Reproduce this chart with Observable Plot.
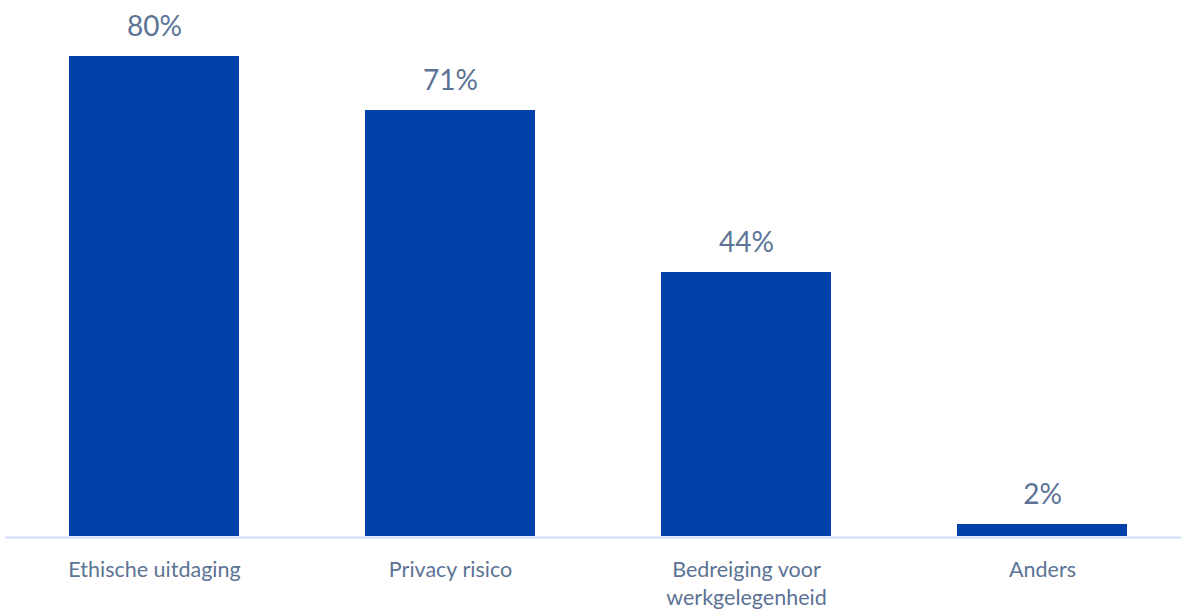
<!DOCTYPE html>
<html>
<head>
<meta charset="utf-8">
<script src="https://cdn.jsdelivr.net/npm/d3@7"></script>
<script src="https://cdn.jsdelivr.net/npm/@observablehq/plot@0.6"></script>
<style>
  html, body { margin: 0; padding: 0; background: #fff; }
  svg { display: block; }
</style>
</head>
<body>
<div id="chart"></div>
<script>
const categories = ["Ethische uitdaging", "Privacy risico", "Bedreiging voor\nwerkgelegenheid", "Anders"];
const values = [80, 71, 44, 2];
const valueLabels = ["80%", "71%", "44%", "2%"];

const data = categories.map((c, i) => ({cat: c, value: values[i], label: valueLabels[i]}));

const textColor = "#5b7394";
const chart = Plot.plot({
  width: 1181,
  height: 610,
  marginLeft: 5,
  marginRight: 0,
  marginTop: 0,
  marginBottom: 0,
  style: {fontFamily: "Lato, sans-serif", background: "#fff"},
  x: {domain: categories, range: [5, 1190], paddingInner: 0.426, paddingOuter: 0.213, axis: null},
  y: {domain: [0, 80], range: [536, 56], axis: null},
  marks: [
    Plot.barY(data, {x: "cat", y: "value", fill: "#0041aa"}),
    Plot.ruleY([0], {stroke: "#cfdcf6", strokeWidth: 2, dy: 1}),
    Plot.text(data, {x: "cat", y: "value", text: "label", lineAnchor: "bottom", dy: -21, fontSize: 28, fill: textColor}),
    Plot.text(data, {x: "cat", y: 0, text: "cat", lineAnchor: "top", dy: 21, fontSize: 21.5, lineHeight: 1.3, fill: textColor})
  ]
});
document.getElementById("chart").appendChild(chart);
</script>
</body>
</html>
